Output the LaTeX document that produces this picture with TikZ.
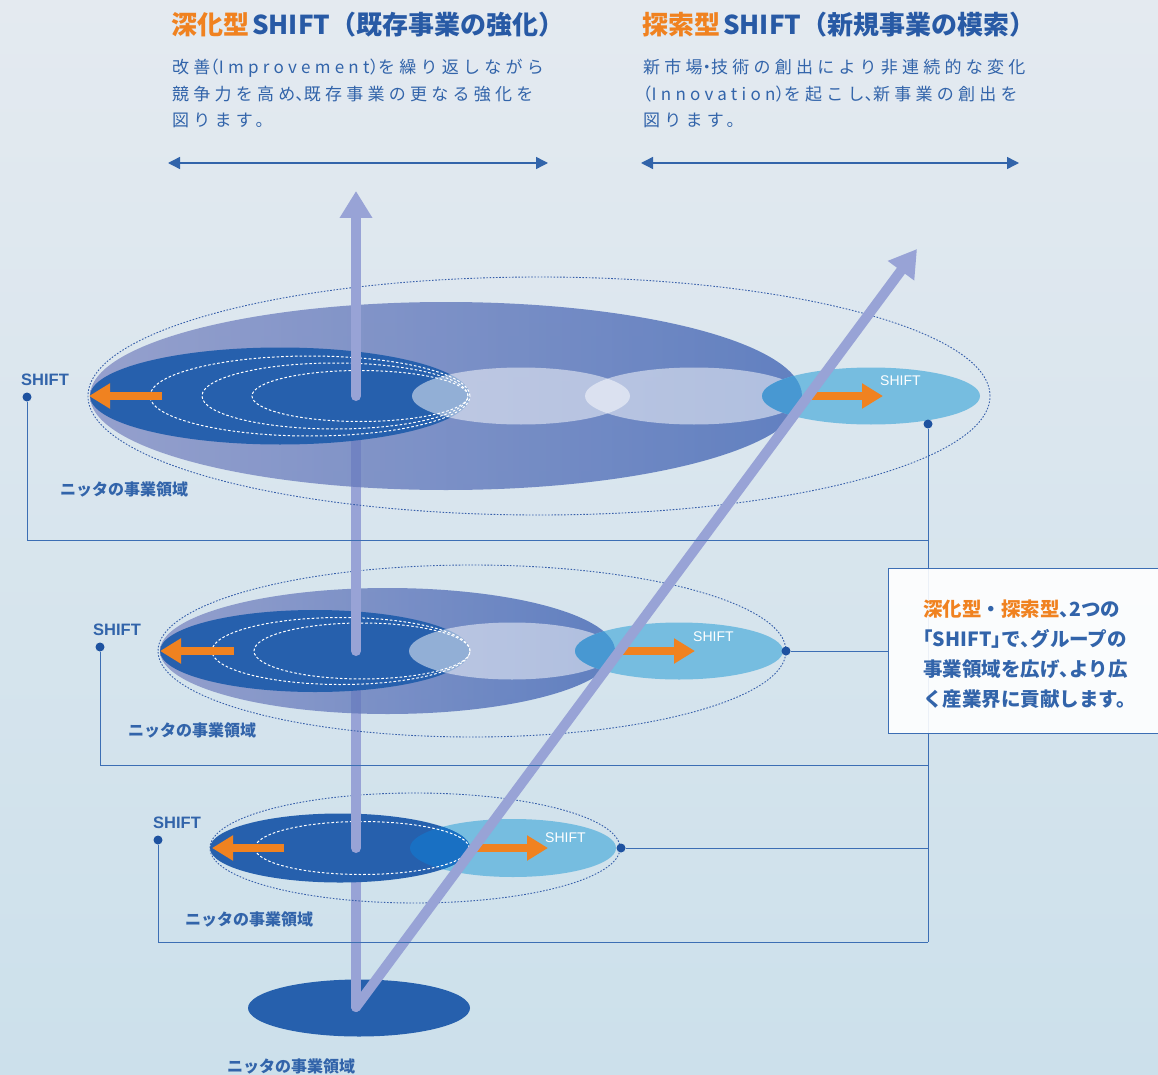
\documentclass[tikz,border=0pt]{standalone}
\usepackage{fontspec}
\usetikzlibrary{arrows.meta}
\newfontfamily\jp{Noto Sans CJK JP}
\newfontfamily\jph[RawFeature=+halt]{Noto Sans CJK JP}
\newfontfamily\jpsp[LetterSpace=25]{Noto Sans CJK JP}
\newfontfamily\jpsph[LetterSpace=25,RawFeature=+halt]{Noto Sans CJK JP}
\newfontfamily\lat{Liberation Sans}
\newcommand\hwb[1]{{\jpsph #1}}
\newcommand\hwc[1]{{\jph #1}}
\definecolor{bgtop}{RGB}{228,234,240}
\definecolor{bgbot}{RGB}{204,224,235}
\definecolor{darkB}{RGB}{38,96,173}
\definecolor{gradL}{RGB}{126,137,194}
\definecolor{gradR}{RGB}{57,94,177}
\definecolor{lavC}{RGB}{152,163,214}
\definecolor{lightB}{RGB}{118,189,224}
\definecolor{ovlB}{RGB}{72,152,210}
\definecolor{ovlD}{RGB}{25,112,195}
\definecolor{orangeC}{RGB}{240,130,32}
\definecolor{textB}{RGB}{50,100,170}
\definecolor{headB}{RGB}{40,90,165}
\definecolor{ringB}{RGB}{55,95,170}
\definecolor{connB}{RGB}{60,110,180}
\definecolor{dotB}{RGB}{30,82,160}
\tikzset{
  lav/.style={draw=lavC, line width=10pt, line cap=round},
  lavarr/.style={lav, -{Triangle[length=27pt,width=31pt]}},
  orarr/.style={draw=orangeC, line width=7.5pt, -{Triangle[length=21pt,width=24pt]}},
  outerring/.style={draw=ringB, line width=0.9pt, dash pattern=on 1.6pt off 1.6pt},
  whitering/.style={draw=white, line width=1pt, dash pattern=on 2.6pt off 2pt},
  grad/.style={left color=gradL, right color=gradR, fill opacity=0.75},
  pale/.style={fill=white, fill opacity=0.5},
  conn/.style={draw=connB, line width=1pt},
  dot/.style={circle, fill=dotB, inner sep=0pt, minimum size=9pt},
  dbl/.style={draw=textB, line width=1.4pt, {Triangle[length=12pt,width=12pt]}-{Triangle[length=12pt,width=12pt]}},
  txt/.style={anchor=base west, inner sep=0pt},
  shiftblue/.style={txt, text=textB, font=\lat\bfseries\fontsize{16.5}{18}\selectfont},
  shiftwhite/.style={txt, text=white, font=\lat\fontsize{14}{16}\selectfont},
  domlabel/.style={txt, text=textB, font=\jp\bfseries\fontsize{16}{18}\selectfont},
  bodytext/.style={txt, text=textB, font=\jpsp\fontsize{17}{20}\selectfont},
  headtext/.style={txt, font=\jp\bfseries\fontsize{26}{30}\selectfont},
  callbox/.style={draw=connB, line width=1pt, fill=white, fill opacity=0.9, inner sep=0pt},
  calltxt/.style={txt, text=textB, font=\jp\bfseries\fontsize{19.5}{22}\selectfont}
}
\begin{document}
\begin{tikzpicture}[x=1pt,y=-1pt]
\useasboundingbox (0,0) rectangle (1158,1075);
\clip (0,0) rectangle (1158,1075);
\shade[top color=bgtop, bottom color=bgbot] (0,0) rectangle (1158,1075);

% ---------- headers ----------
\node[headtext] (h1) at (171,35) {\textcolor{orangeC}{深化型}\hspace{3pt}\textcolor{headB}{SHIFT（既存事業の強化）}};
\node[headtext] (h2) at (642,35) {\textcolor{orangeC}{探索型}\hspace{3pt}\textcolor{headB}{SHIFT（新規事業の模索）}};
\node[bodytext] (b1) at (172,74) {改善\hwb{（}Improvement\hwb{）}を繰り返しながら};
\node[bodytext] (b2) at (172,100.5) {競争力を高め\hwb{、}既存事業の更なる強化を};
\node[bodytext] (b3) at (172,127) {図ります。};
\node[bodytext] (b4) at (643,74) {新市場\hwb{・}技術の創出により非連続的な変化};
\node[bodytext] (b5) at (643,100.5) {\hwb{（}Innovation\hwb{）}を起こし\hwb{、}新事業の創出を};
\node[bodytext] (b6) at (643,127) {図ります。};
\coordinate (a1) at (168,163); \coordinate (a2) at (548,163);
\coordinate (a3) at (641,163); \coordinate (a4) at (1019,163);
\draw[dbl] (a1) -- (a2);
\draw[dbl] (a3) -- (a4);

% ---------- axis points ----------
\coordinate (base) at (356,1007);
\coordinate (c3) at (356,848);
\coordinate (c2) at (356,651);
\coordinate (c1) at (356,396);
\coordinate (topTip) at (356,191);
\coordinate (diagTip) at (917,249);

% ---------- bottom ----------
\fill[darkB] (359,1008) ellipse [x radius=111pt, y radius=28.5pt];
\draw[lav] (base) -- (c3);

% ---------- level 3 ----------
\draw[outerring] (415,848) ellipse [x radius=205pt, y radius=55pt];
\fill[lightB] (513,848) ellipse [x radius=103pt, y radius=29pt];
\fill[darkB] (340,848) ellipse [x radius=130pt, y radius=34.5pt];
\begin{scope}
  \clip (340,848) ellipse [x radius=130pt, y radius=34.5pt];
  \fill[ovlD] (513,848) ellipse [x radius=103pt, y radius=29pt];
\end{scope}
\draw[whitering] (362,848) ellipse [x radius=107pt, y radius=26.5pt];
\draw[orarr] (284,848) -- (212,848);
\draw[orarr] (477,848) -- (548,848);
\node[shiftwhite] (s3w) at (545,842) {SHIFT};
\draw[lav] (c3) -- (c2);

% ---------- level 2 ----------
\draw[outerring] (472,651) ellipse [x radius=314pt, y radius=86pt];
\shade[grad] (387.5,651) ellipse [x radius=227.5pt, y radius=63pt];
\fill[darkB] (315,651) ellipse [x radius=155pt, y radius=41pt];
\fill[pale] (512,651) ellipse [x radius=103pt, y radius=28.5pt];
\fill[lightB] (679,651) ellipse [x radius=104pt, y radius=28.5pt];
\begin{scope}
  \clip (387.5,651) ellipse [x radius=227.5pt, y radius=63pt];
  \fill[ovlB] (679,651) ellipse [x radius=104pt, y radius=28.5pt];
\end{scope}
\draw[whitering] (341,651) ellipse [x radius=129pt, y radius=33.5pt];
\draw[whitering] (362,651) ellipse [x radius=108pt, y radius=28pt];
\draw[orarr] (234,651) -- (160,651);
\draw[orarr] (622,651) -- (695,651);
\node[shiftwhite] (s2w) at (693,641) {SHIFT};
\draw[lav] (c2) -- (c1);

% ---------- level 1 ----------
\draw[outerring] (539,396) ellipse [x radius=451pt, y radius=119pt];
\shade[grad] (446,396) ellipse [x radius=356pt, y radius=94pt];
\fill[darkB] (280,396) ellipse [x radius=190pt, y radius=48.5pt];
\fill[pale] (521,396) ellipse [x radius=109pt, y radius=28.5pt];
\fill[pale] (694,396) ellipse [x radius=109pt, y radius=28.5pt];
\fill[lightB] (871,396) ellipse [x radius=109pt, y radius=28.5pt];
\begin{scope}
  \clip (446,396) ellipse [x radius=356pt, y radius=94pt];
  \fill[ovlB] (871,396) ellipse [x radius=109pt, y radius=28.5pt];
\end{scope}
\draw[whitering] (310,396) ellipse [x radius=160pt, y radius=40pt];
\draw[whitering] (335,396) ellipse [x radius=133pt, y radius=33pt];
\draw[whitering] (360,396) ellipse [x radius=108pt, y radius=25.5pt];
\draw[orarr] (162,396) -- (89,396);
\draw[orarr] (812,396) -- (883,396);
\node[shiftwhite] (s1w) at (880,385) {SHIFT};
\draw[lavarr] (c1) -- (topTip);

% ---------- diagonal ----------
\draw[lavarr] (base) -- (diagTip);

% ---------- connectors ----------
\node[dot] (d1L) at (27,397) {};
\node[dot] (d1R) at (928,424) {};
\node[dot] (d2L) at (100,647) {};
\node[dot] (d2R) at (786,651) {};
\node[dot] (d3L) at (158,840) {};
\node[dot] (d3R) at (621,848) {};
\coordinate (j1) at (928,540);
\coordinate (j2) at (928,765);
\coordinate (j3) at (928,942);
\coordinate (j4) at (928,848);
\draw[conn] (d1L) |- (j1);
\draw[conn] (d2L) |- (j2);
\draw[conn] (d3L) |- (j3);
\draw[conn] (d1R) -- (j3);
\draw[conn] (d3R) -- (j4);

% ---------- callout ----------
\node[callbox, anchor=north west, minimum width=300pt, minimum height=165pt] (box) at (888,568) {};
\draw[conn] (d2R) -- (box.west |- d2R);
\node[calltxt] (t1) at (923,616) {\textcolor{orangeC}{深化型}・\textcolor{orangeC}{探索型}\hwc{、}2つの};
\node[calltxt] (t2) at (923,646) {\hwc{「}SHIFT\hwc{」}で\hwc{、}グループの};
\node[calltxt] (t3) at (923,676) {事業領域を広げ\hwc{、}より広};
\node[calltxt] (t4) at (923,706) {く産業界に貢献します。};

% ---------- labels ----------
\node[shiftblue] (l1) at (21,385) {SHIFT};
\node[shiftblue] (l2) at (93,635) {SHIFT};
\node[shiftblue] (l3) at (153,828) {SHIFT};
\node[domlabel] (n1) at (60,495) {ニッタの事業領域};
\node[domlabel] (n2) at (128,736) {ニッタの事業領域};
\node[domlabel] (n3) at (185,925) {ニッタの事業領域};
\node[domlabel] (n4) at (227,1072) {ニッタの事業領域};
\end{tikzpicture}
\end{document}
